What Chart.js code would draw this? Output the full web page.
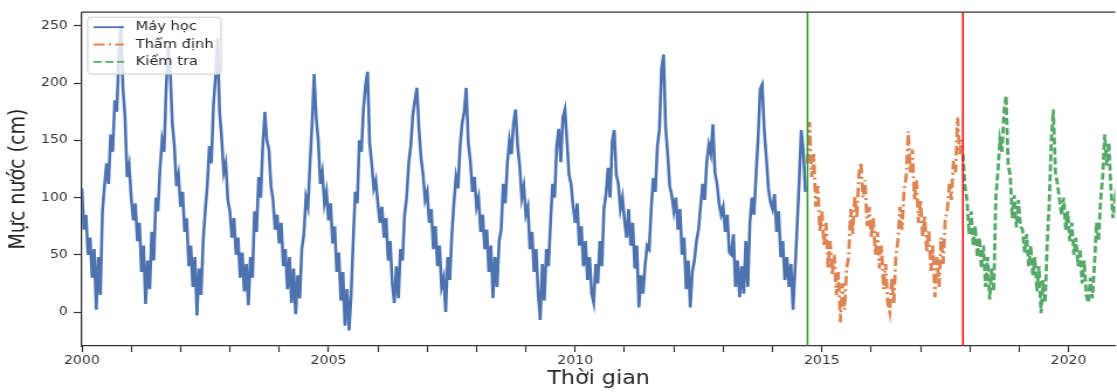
<!DOCTYPE html>
<html>
<head>
<meta charset="utf-8">
<title>Mực nước</title>
<script src="https://cdn.jsdelivr.net/npm/chart.js@4.4.1/dist/chart.umd.min.js"></script>
<style>
  html, body { margin: 0; padding: 0; background: #fff; overflow: hidden; }
  /* the source figure is a bit wider than it is tall in font terms, so stretch it */
  #wrap { width: 955px; height: 392px; transform: scaleX(1.1696); transform-origin: 0 0; }
</style>
</head>
<body>
<div id="wrap"><canvas id="waterChart"></canvas></div>
<script>
// Sampling: two readings per month (decimal years)
const samplesPerYear = 24;
const trainStart = 2000;
const valStart = 2014.71;
const testStart = 2017.86;

// Training series (Máy học), one row per year
const trainLevel = [
  108, 72, 85, 50, 65, 30, 55, 2, 48, 15, 88, 110, 130, 112, 155, 140, 185, 175, 225, 251, 195, 170, 118, 128,
  100, 80, 95, 62, 78, 35, 58, 7, 45, 20, 70, 45, 100, 88, 125, 150, 140, 195, 232, 210, 165, 145, 110, 120,
  92, 105, 70, 82, 40, 58, 22, 48, -3, 38, 15, 62, 88, 110, 145, 130, 180, 205, 239, 175, 152, 122, 130, 98,
  88, 65, 82, 50, 65, 30, 52, 18, 42, 6, 48, 30, 88, 70, 118, 100, 145, 175, 150, 142, 110, 98, 72, 85,
  60, 78, 40, 55, 20, 48, 8, 38, -2, 32, 12, 55, 68, 100, 92, 130, 165, 208, 170, 150, 112, 122, 95, 105,
  80, 95, 60, 75, 35, 52, 10, 35, -12, 20, -16, 15, 62, 105, 95, 150, 140, 178, 198, 210, 148, 130, 108, 115,
  95, 78, 92, 65, 82, 45, 62, 25, 8, 40, 12, 55, 45, 85, 100, 130, 145, 172, 185, 196, 160, 135, 120, 98,
  105, 78, 90, 55, 75, 40, 58, 22, 30, 0, 48, 28, 68, 95, 118, 108, 145, 165, 175, 196, 148, 132, 105, 118,
  92, 100, 70, 85, 55, 72, 35, 58, 12, 48, 22, 62, 72, 112, 95, 130, 150, 138, 165, 177, 145, 128, 100, 110,
  85, 92, 55, 70, 35, 55, 16, -7, 42, 10, 55, 40, 78, 112, 100, 145, 160, 131, 170, 177, 150, 120, 112, 92,
  78, 95, 58, 75, 40, 62, 28, 48, 16, 8, 42, 25, 62, 40, 90, 103, 126, 100, 149, 159, 120, 112, 90, 100,
  80, 65, 90, 58, 78, 38, 58, 4, 32, 16, 40, 58, 55, 90, 117, 105, 145, 160, 212, 225, 162, 138, 110, 102,
  88, 100, 72, 90, 50, 65, 20, 45, 4, 35, 45, 62, 72, 92, 112, 98, 131, 146, 138, 164, 122, 112, 95, 85,
  92, 70, 85, 52, 50, 68, 22, 45, 13, 40, 16, 62, 22, 78, 100, 85, 120, 152, 195, 199, 158, 135, 108, 96,
  90, 103, 70, 88, 48, 62, 28, 48, 22, 42, 2, 38, 75, 115, 159, 140, 105,
];

// Validation series (Thẩm định)
const valLevel = [
  130, 166, 118, 138, 92, 110, 70, 88, 58, 78,
  38, 62, 32, 50, 15, 35, -9, 25, 2, 38,
  48, 90, 68, 102, 82, 120, 131, 100, 115, 75,
  92, 65, 82, 50, 70, 38, 58, 20, 42, 8,
  0, 30, 8, 50, 62, 92, 72, 108, 118, 158,
  122, 142, 98, 115, 78, 98, 66, 84, 52, 72,
  36, 58, 13, 48, 22, 65, 42, 82, 88, 112,
  98, 132, 122, 170, 138, 152,
];

// Test series (Kiểm tra)
const testLevel = [
  138, 110, 98, 68, 88, 58, 75, 48, 65, 38,
  58, 22, 48, 11, 38, 18, 100, 122, 150, 140,
  175, 189, 128, 120, 82, 102, 74, 98, 75, 72,
  52, 68, 40, 58, 32, 48, 18, 40, -1, 28,
  8, 60, 95, 150, 177, 122, 112, 98, 85, 100,
  72, 88, 62, 78, 50, 65, 40, 55, 25, 45,
  15, 8, 30, 12, 42, 78, 62, 98, 118, 155,
  128, 148, 108, 82, 98, 85,
];

// Axis ranges and ticks
const xMin = 2000, xMax = 2020.95;
const yMin = -29.7, yMax = 262;
const labeledYears = [2000, 2005, 2010, 2015, 2020];

const axisColor = '#333333';
const textColor = '#262626';
const fontFamily = "'DejaVu Sans', sans-serif";

// Turn a start year + readings into {x, y} points
function toPoints(start, values) {
  return values.map((v, i) => ({ x: start + i / samplesPerYear, y: v }));
}

// Frame top edge + matplotlib-like legend box drawn over the data
const framePlugin = {
  id: 'frameAndLegend',
  afterDraw(chart) {
    const { ctx, chartArea: a } = chart;
    ctx.save();
    ctx.strokeStyle = axisColor;
    ctx.lineWidth = 1.25;
    ctx.beginPath();
    ctx.moveTo(a.left, a.top);
    ctx.lineTo(a.right, a.top);
    ctx.stroke();

    const x0 = a.left + 5, y0 = a.top + 5, w = 114, h = 57;
    ctx.beginPath();
    ctx.roundRect(x0, y0, w, h, 3);
    ctx.fillStyle = 'rgba(255,255,255,0.8)';
    ctx.fill();
    ctx.strokeStyle = '#cccccc';
    ctx.lineWidth = 1;
    ctx.stroke();

    chart.data.datasets.slice(0, 3).forEach((ds, i) => {
      const y = y0 + 10 + i * 17.3;
      ctx.setLineDash(ds.borderDash || []);
      ctx.strokeStyle = ds.borderColor;
      ctx.lineWidth = 1.8;
      ctx.beginPath();
      ctx.moveTo(x0 + 5, y);
      ctx.lineTo(x0 + 31, y);
      ctx.stroke();
      ctx.setLineDash([]);
      ctx.fillStyle = textColor;
      ctx.font = '12.5px ' + fontFamily;
      ctx.textBaseline = 'middle';
      ctx.fillText(ds.label, x0 + 41, y);
    });
    ctx.restore();
  },
};

function initWaterChart() {
  const canvas = document.getElementById('waterChart');
  const ctx = canvas.getContext('2d');

  Chart.defaults.font.family = fontFamily;

  new Chart(ctx, {
    type: 'line',
    data: {
      datasets: [
        {
          label: 'Máy học',
          data: toPoints(trainStart, trainLevel),
          borderColor: '#4C72B0',
          borderWidth: 2.6,
          pointRadius: 0,
          tension: 0,
          order: 2,
        },
        {
          label: 'Thẩm định',
          data: toPoints(valStart, valLevel),
          borderColor: '#DD8452',
          borderWidth: 2.8,
          borderDash: [9.5, 3.5, 2, 3.5],
          pointRadius: 0,
          tension: 0,
          order: 1,
        },
        {
          label: 'Kiểm tra',
          data: toPoints(testStart, testLevel),
          borderColor: '#55A868',
          borderWidth: 2.8,
          borderDash: [7, 3],
          pointRadius: 0,
          tension: 0,
          order: 1,
        },
        // Split markers: start of validation and test periods
        {
          label: 'valSplit',
          data: [{ x: valStart, y: yMin }, { x: valStart, y: yMax }],
          borderColor: '#2e9a2e',
          borderWidth: 1.6,
          pointRadius: 0,
          order: -1,
        },
        {
          label: 'testSplit',
          data: [{ x: testStart, y: yMin }, { x: testStart, y: yMax }],
          borderColor: '#f01010',
          borderWidth: 1.6,
          pointRadius: 0,
          order: -1,
        },
      ],
    },
    options: {
      responsive: true,
      maintainAspectRatio: false,
      animation: false,
      layout: { padding: { top: 9, right: 0, bottom: 0, left: 0 } },
      plugins: {
        legend: { display: false },
        tooltip: { enabled: false },
      },
      scales: {
        x: {
          type: 'linear',
          min: xMin,
          max: xMax,
          afterFit: (scale) => { scale.height = 46; },
          ticks: {
            stepSize: 1,
            includeBounds: false,
            autoSkip: false,
            maxRotation: 0,
            padding: 2,
            color: axisColor,
            font: { size: 12 },
            callback: (value) => (labeledYears.includes(value) ? String(value) : ''),
          },
          grid: { drawOnChartArea: false, tickLength: 6, tickColor: axisColor, tickWidth: 1.2 },
          border: { display: true, color: axisColor, width: 1.25 },
          title: {
            display: true,
            text: 'Thời gian',
            color: textColor,
            font: { size: 19 },
            padding: { top: 0, bottom: 2 },
          },
        },
        y: {
          min: yMin,
          max: yMax,
          afterFit: (scale) => { scale.width = 70; },
          ticks: {
            stepSize: 50,
            includeBounds: false,
            padding: 5,
            color: axisColor,
            font: { size: 12 },
          },
          grid: { drawOnChartArea: false, tickLength: 7, tickColor: axisColor, tickWidth: 1.2 },
          border: { display: true, color: axisColor, width: 1.25 },
          title: {
            display: true,
            text: 'Mực nước (cm)',
            color: textColor,
            font: { size: 19 },
            padding: { top: 5, bottom: 0 },
          },
        },
      },
    },
    plugins: [framePlugin],
  });
}

document.addEventListener('DOMContentLoaded', initWaterChart);
</script>
</body>
</html>
